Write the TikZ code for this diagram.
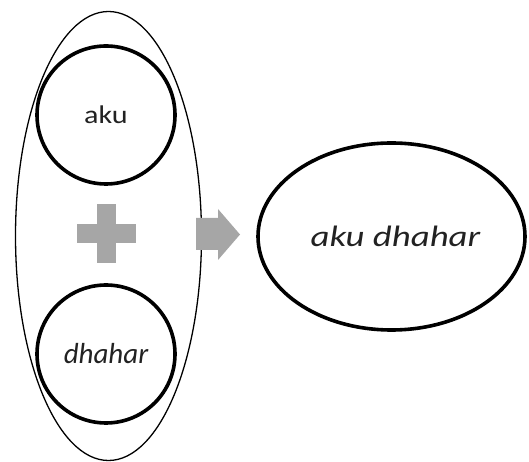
\documentclass[tikz,border=0pt]{standalone}
\usepackage{fontspec}
\setmainfont{Carlito}
\usetikzlibrary{shapes.geometric}
\definecolor{blockgray}{HTML}{A6A6A6}
\definecolor{ink}{HTML}{222222}
\tikzset{
  word/.style={draw, circle, line width=3.6pt, minimum size=138pt, inner sep=0pt, text=ink},
  group/.style={draw, ellipse, line width=1.3pt, minimum width=186pt, minimum height=449pt, inner sep=0pt},
  result/.style={draw, ellipse, line width=3.6pt, minimum width=267pt, minimum height=187pt, inner sep=0pt, text=ink},
  block/.style={fill=blockgray, draw=none}
}
\begin{document}
\begin{tikzpicture}[x=1pt, y=1pt]
  \useasboundingbox (0,0) rectangle (529,462);
  % outer grouping ellipse
  \node[group] (pair) at (108.5,226) {};
  % the two words
  \node[word] (w1) at (106,347) {\fontsize{25.5}{28}\selectfont\scalebox{1.18}[1]{aku}};
  \node[word] (w2) at (106,108) {\fontsize{29}{32}\selectfont\itshape dhahar};
  % plus sign
  \path[block] (77,219) rectangle (136,238);
  \path[block] (97,199) rectangle (116,258);
  \coordinate (plus) at (106.5,228.5);
  % block arrow
  \path[block] (196,212) -- (218,212) -- (218,202) -- (240,227.5) -- (218,253) -- (218,244) -- (196,244) -- cycle;
  % combined result
  \node[result] (res) at (391.5,225.5) {};
  \node[text=ink] (restext) at ([xshift=4pt]res.center) {\fontsize{29.5}{32}\selectfont\itshape\scalebox{1.25}[1]{aku dhahar}};
\end{tikzpicture}
\end{document}
